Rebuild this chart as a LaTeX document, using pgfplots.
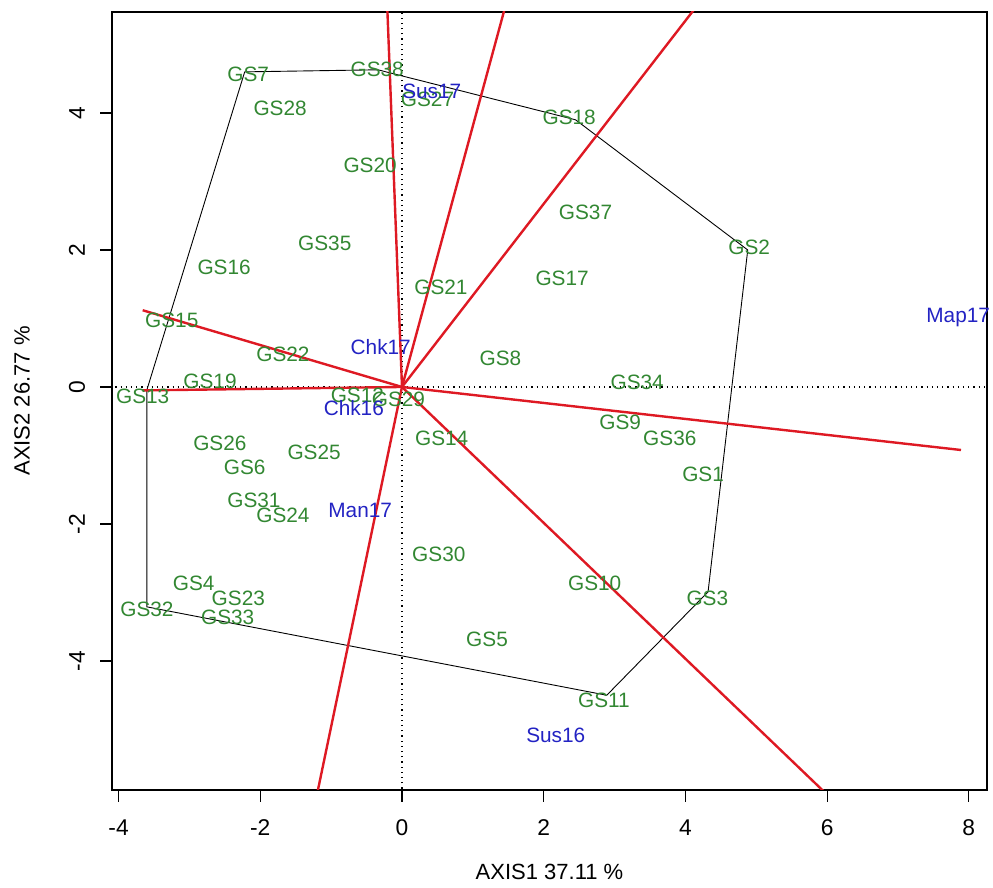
\documentclass[border=0pt]{standalone}
\usepackage{pgfplots}
\pgfplotsset{compat=1.18}
\usepackage{pgfplotstable}
\usepackage{fontspec}
\setmainfont{Liberation Sans}
\definecolor{gsgreen}{RGB}{50,135,50}
\definecolor{varblue}{RGB}{35,35,195}
\definecolor{arrred}{RGB}{222,25,35}

\pgfplotstableread{
x y lab
4.25 -1.28 GS1
4.90 2.04 GS2
4.31 -3.08 GS3
-2.94 -2.86 GS4
1.20 -3.69 GS5
-2.22 -1.17 GS6
-2.17 4.56 GS7
1.39 0.42 GS8
3.08 -0.52 GS9
2.72 -2.87 GS10
2.85 -4.57 GS11
-0.63 -0.12 GS12
-3.66 -0.14 GS13
0.56 -0.75 GS14
-3.25 0.98 GS15
-2.51 1.74 GS16
2.26 1.59 GS17
2.36 3.93 GS18
-2.71 0.08 GS19
-0.45 3.24 GS20
0.55 1.45 GS21
-1.68 0.48 GS22
-2.31 -3.09 GS23
-1.68 -1.87 GS24
-1.24 -0.95 GS25
-2.57 -0.82 GS26
0.36 4.20 GS27
-1.72 4.07 GS28
-0.05 -0.18 GS29
0.52 -2.45 GS30
-2.09 -1.65 GS31
-3.60 -3.25 GS32
-2.46 -3.36 GS33
3.32 0.07 GS34
-1.09 2.10 GS35
3.78 -0.75 GS36
2.59 2.55 GS37
-0.35 4.63 GS38
}\gsdata

\pgfplotstableread{
x y lab
0.42 4.31 Sus17
7.85 1.02 Map17
-0.30 0.58 Chk17
-0.68 -0.31 Chk16
-0.59 -1.80 Man17
2.17 -5.08 Sus16
}\vardata

\begin{document}
\begin{tikzpicture}
\begin{axis}[
  scale only axis, width=437.5pt, height=389pt,
  xmin=-4.093, xmax=8.257, ymin=-5.883, ymax=5.474,
  axis line style={line width=0.6pt},
  xtick={-4,-2,0,2,4,6,8}, xticklabels={-4,-2,0,2,4,6,8},
  ytick={-4,-2,0,2,4}, yticklabels={-4,-2,0,2,4},
  xtick pos=left, ytick pos=left,
  tick align=outside, major tick length=6pt,
  tick style={black, line width=0.6pt},
  ticklabel style={font=\fontsize{11.4}{13}\selectfont},
  xticklabel style={anchor=center}, xticklabel shift=13pt,
  yticklabel style={anchor=center, rotate=90}, yticklabel shift=11.5pt,
  xlabel={AXIS1 37.11 \%}, ylabel={AXIS2 26.77 \%},
  label style={font=\fontsize{11}{13}\selectfont},
  xlabel style={at={(axis description cs:0.5,-0.1054)}, anchor=center},
  ylabel style={at={(axis description cs:-0.1029,0.5)}, anchor=center},
  clip=true,
]
\coordinate (sw) at (rel axis cs:0,0);
\coordinate (ne) at (rel axis cs:1,1);
% reference dotted lines
\addplot[black, dotted, line width=0.6pt] coordinates {(0,-7) (0,7)};
\addplot[black, dotted, line width=0.6pt] coordinates {(-5,0) (9,0)};
% hull
\addplot[black, line width=0.45pt] coordinates {
(-2.22,4.60) (-0.34,4.63) (2.45,3.90) (4.88,2.00) (4.32,-2.99)
(2.89,-4.50) (-3.60,-3.21) (-3.60,-0.04) (-2.22,4.60)};
% genotype labels
\addplot[only marks, mark=none, nodes near coords, point meta=explicit symbolic,
  every node near coord/.append style={anchor=center, text=gsgreen, inner sep=0pt,
  font=\fontsize{10.4}{12}\selectfont}]
  table[x=x, y=y, meta=lab] {\gsdata};
% variable labels
\addplot[only marks, mark=none, nodes near coords, point meta=explicit symbolic,
  every node near coord/.append style={anchor=center, text=varblue, inner sep=0pt,
  font=\fontsize{10.4}{12}\selectfont}]
  table[x=x, y=y, meta=lab] {\vardata};
% vectors
\addplot[arrred, line width=1.2pt] coordinates {(0,0) (-0.21,5.6)};
\addplot[arrred, line width=1.2pt] coordinates {(0,0) (1.47,5.6)};
\addplot[arrred, line width=1.2pt] coordinates {(0,0) (4.19,5.6)};
\addplot[arrred, line width=1.2pt] coordinates {(0,0) (-3.66,1.12)};
\addplot[arrred, line width=1.2pt] coordinates {(0,0) (-3.66,-0.05)};
\addplot[arrred, line width=1.2pt] coordinates {(0,0) (7.89,-0.92)};
\addplot[arrred, line width=1.2pt] coordinates {(0,0) (6.05,-6.0)};
\addplot[arrred, line width=1.2pt] coordinates {(0,0) (-1.21,-6.0)};
\end{axis}
\pgfresetboundingbox
\path[use as bounding box] ([shift={(-56pt,-49pt)}]sw) rectangle ([shift={(3pt,6pt)}]ne);
\end{tikzpicture}
\end{document}
